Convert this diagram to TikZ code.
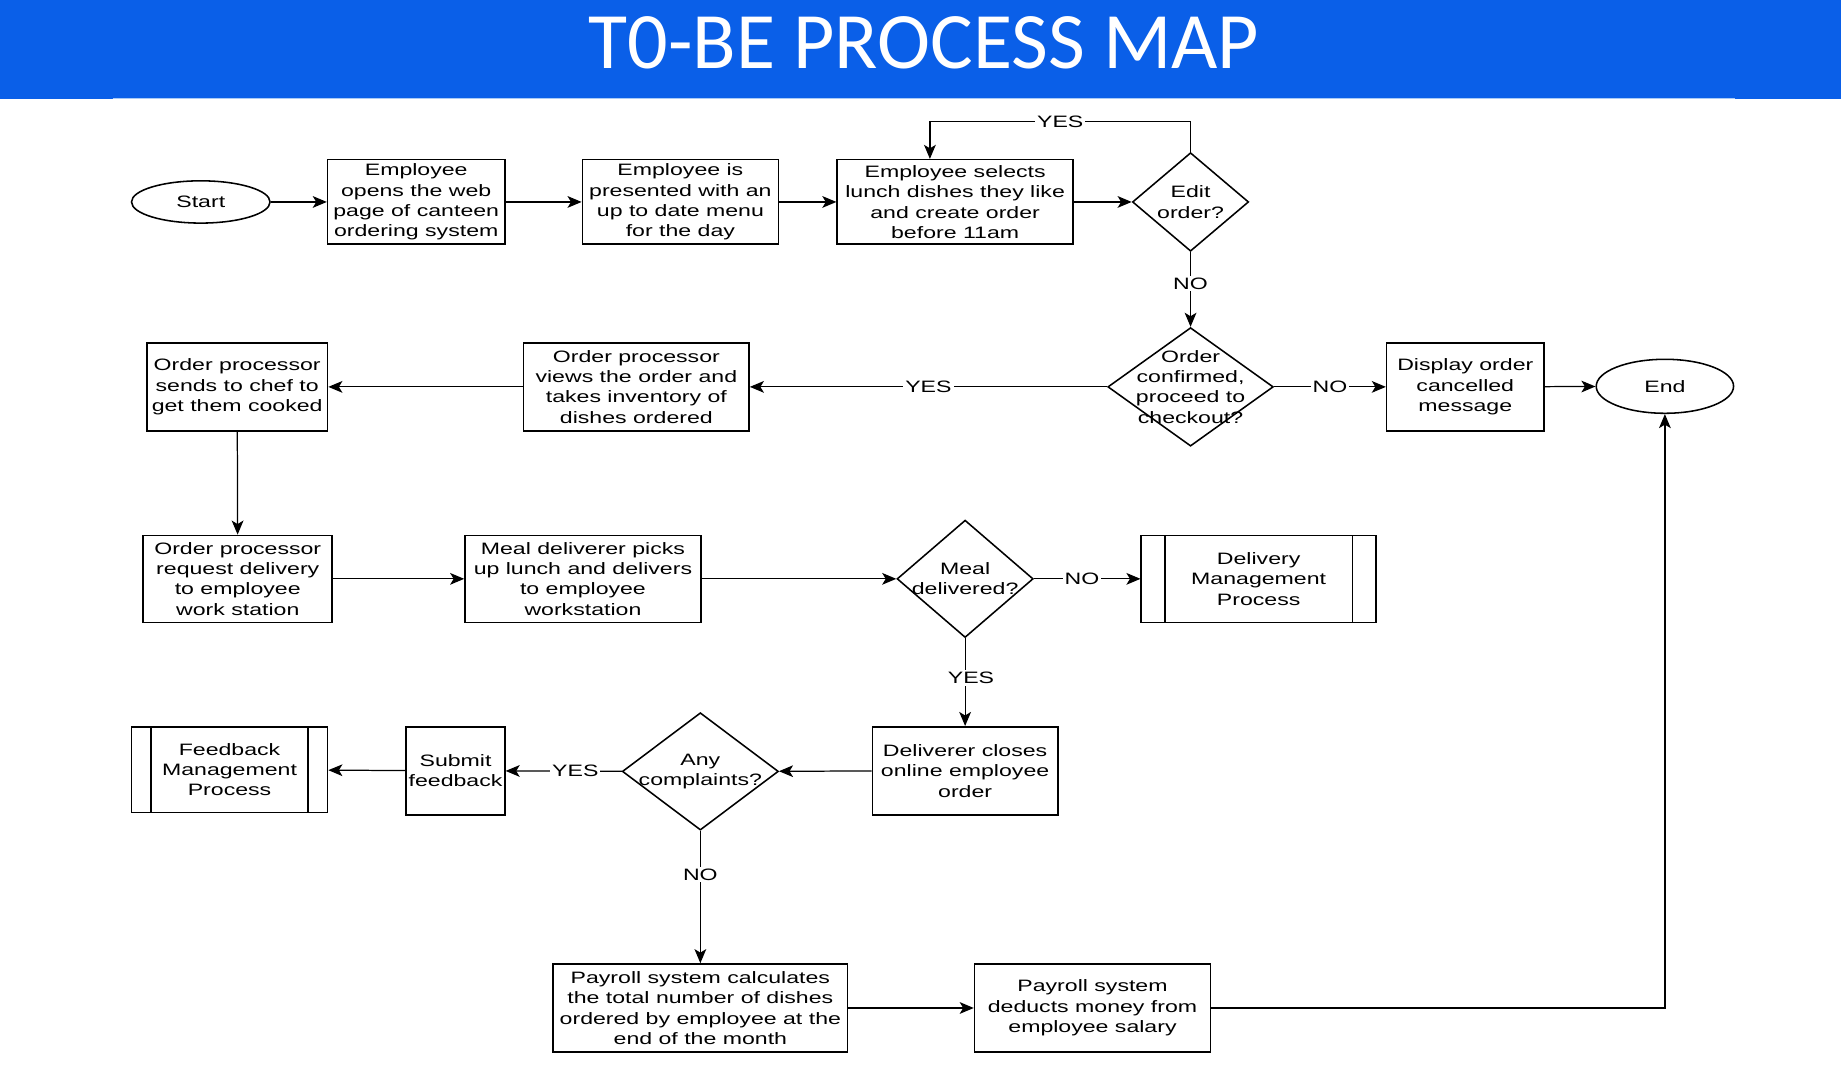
\documentclass[tikz,border=0pt]{standalone}
\usepackage{fontspec}
\setmainfont{Liberation Sans}
\newfontfamily\boxfont[FakeStretch=1.4]{Liberation Sans}
\newfontfamily\titlefont{Carlito}
\usetikzlibrary{arrows.meta, shapes.geometric, calc}
\definecolor{bandblue}{HTML}{0A5FE8}
\definecolor{bandline}{HTML}{A9CBF7}

\begin{document}
\begin{tikzpicture}[x=0.02cm, y=-0.02cm, >={Stealth[length=2.4mm, width=2mm, inset=0.6mm]},
    font=\boxfont\fontsize{8}{9.9}\selectfont,
    process/.style={draw, line width=0.75pt, align=center, inner sep=0pt, minimum height=1.5cm},
    terminal/.style={draw, ellipse, line width=0.75pt, inner sep=0pt},
    decision/.style={draw, diamond, line width=0.75pt, inner sep=0pt},
    subprocess/.style={process, path picture={
        \draw[line width=0.75pt] ([xshift=#1]path picture bounding box.north west) -- ([xshift=#1]path picture bounding box.south west);
        \draw[line width=0.75pt] ([xshift=-#1]path picture bounding box.north east) -- ([xshift=-#1]path picture bounding box.south east);}},
    subprocess/.default=0.4cm,
    lbl/.style={fill=white, inner sep=1pt},
    flow/.style={->, line width=0.6pt}]
    \useasboundingbox (0,0) rectangle (1568,917);
    % title band
    \fill[bandblue] (0,0) rectangle (1568,84.5);
    \draw[bandline, line width=0.6pt] (96,84) -- (1478,84);
    \node[anchor=base, text=white, font=\titlefont\fontsize{38.8}{40}\selectfont] (title) at (787,58) {T0-BE PROCESS MAP};

    % first row
    \node[terminal, minimum width=2.36cm, minimum height=0.72cm] (start) at (171,172) {Start};
    \node[process, minimum width=3.02cm, minimum height=1.44cm] (opens) at (354.5,172) {Employee\\opens the web\\page of canteen\\ordering system};
    \node[process, minimum width=3.34cm, minimum height=1.44cm] (menu) at (579.5,172) {Employee is\\presented with an\\up to date menu\\for the day};
    \node[process, minimum width=4.02cm, minimum height=1.44cm] (selects) at (813.5,172) {Employee selects\\lunch dishes they like\\and create order\\before 11am};
    \node[decision, minimum width=1.98cm, minimum height=1.68cm, label={[align=center]center:Edit\\order?}] (edit) at (1014,172) {};

    % second row
    \node[decision, minimum width=2.82cm, minimum height=2.02cm, label={[align=center]center:Order\\confirmed,\\proceed to\\checkout?}] (confirm) at (1014,329.5) {};
    \node[process, minimum width=2.68cm] (cancel) at (1248,329.5) {Display order\\cancelled\\message};
    \node[terminal, minimum width=2.34cm, minimum height=0.92cm] (end) at (1418,329) {End};
    \node[process, minimum width=3.84cm] (views) at (542,329.5) {Order processor\\views the order and\\takes inventory of\\dishes ordered};
    \node[process, minimum width=3.08cm] (chef) at (202,329.5) {Order processor\\sends to chef to\\get them cooked};

    % third row
    \node[process, minimum width=3.22cm, minimum height=1.48cm] (request) at (202.5,493) {Order processor\\request delivery\\to employee\\work station};
    \node[process, minimum width=4.02cm, minimum height=1.48cm] (picks) at (496.5,493) {Meal deliverer picks\\up lunch and delivers\\to employee\\workstation};
    \node[decision, minimum width=2.32cm, minimum height=2cm, label={[align=center]center:Meal\\delivered?}] (delivered) at (822,493) {};
    \node[subprocess, minimum width=4cm, minimum height=1.48cm] (delivery) at (1072,493) {Delivery\\Management\\Process};

    % fourth row
    \node[process, minimum width=3.16cm] (closes) at (822,656.5) {Deliverer closes\\online employee\\order};
    \node[decision, minimum width=2.66cm, minimum height=2cm, label={[align=center]center:Any\\complaints?}] (complaints) at (596.5,657) {};
    \node[process, minimum width=1.68cm] (submit) at (388,656.5) {Submit\\feedback};
    \node[subprocess=0.33cm, minimum width=3.34cm, minimum height=1.46cm] (feedback) at (195.5,655.5) {Feedback\\Management\\Process};

    % payroll
    \node[process, minimum width=5.02cm] (payroll) at (596.5,858.5) {Payroll system calculates\\the total number of dishes\\ordered by employee at the\\end of the month};
    \node[process, minimum width=4.02cm] (deducts) at (930.5,858.5) {Payroll system\\deducts money from\\employee salary};

    \draw[flow] (start) -- (opens);
    \draw[flow] (opens) -- (menu);
    \draw[flow] (menu) -- (selects);
    \draw[flow] (selects) -- (edit);
    \draw[flow] (edit.north) -- ++(0,-26) -| node[lbl, pos=0.25] {YES} ([xshift=-0.43cm]selects.north);
    \draw[flow] (edit) -- node[lbl, pos=0.42] {NO} (confirm);
    \draw[flow] (confirm) -- node[lbl] {NO} (cancel);
    \draw[flow] (cancel) -- (end);
    \draw[flow] (confirm) -- node[lbl] {YES} (views);
    \draw[flow] (views) -- (chef);
    \draw[flow] (chef) -- (request);
    \draw[flow] (request) -- (picks);
    \draw[flow] (picks) -- (delivered);
    \draw[flow] (delivered) -- node[lbl, pos=0.45] {NO} (delivery);
    \draw[flow] (delivered) -- node[lbl, xshift=0.1cm, pos=0.45] {YES} (closes);
    \draw[flow] (closes) -- (complaints);
    \draw[flow] (complaints) -- node[lbl, pos=0.4] {YES} (submit);
    \draw[flow] (submit) -- (feedback);
    \draw[flow] (complaints) -- node[lbl, pos=0.33] {NO} (payroll);
    \draw[flow] (payroll) -- (deducts);
    \draw[flow] (deducts) -| (end);
\end{tikzpicture}
\end{document}
